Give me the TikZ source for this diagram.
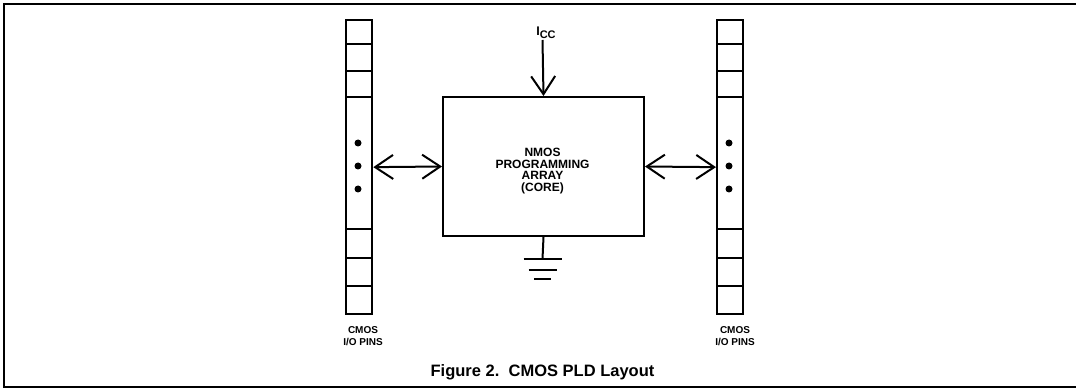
\documentclass[tikz,border=0pt]{standalone}
\usepackage{fontspec}
\setmainfont{Liberation Sans}
\usetikzlibrary{arrows.meta}
\begin{document}
\begin{tikzpicture}[x=1pt,y=-1pt,
  frame/.style={line width=2.8pt},
  pinbox/.style={draw, line width=2.3pt, minimum width=26pt, minimum height=294pt, inner sep=0pt, anchor=north west},
  pinline/.style={line width=2.3pt},
  corebox/.style={draw, line width=2pt, minimum width=201pt, minimum height=139pt, inner sep=0pt, anchor=north west},
  txt/.style={align=center, inner sep=0pt, font=\bfseries\fontsize{12}{11.8}\selectfont},
  pinlbl/.style={align=center, inner sep=0pt, font=\bfseries\fontsize{10}{12.5}\selectfont},
  caption/.style={inner sep=0pt, font=\bfseries\fontsize{16.5}{16.5}\selectfont},
  conn/.style={line width=2pt},
  biarrow/.style={conn, {Straight Barb[length=18pt,width=24pt]}-{Straight Barb[length=18pt,width=24pt]}},
  inarrow/.style={conn, -{Straight Barb[length=18pt,width=24pt]}},
  gnd/.style={line width=2.8pt},
  dot/.style={circle, fill, inner sep=0pt, minimum size=7pt}
]
\useasboundingbox (0,0) rectangle (1076,390);
\draw[frame] (1078,4) -- (4,4) -- (4,387) -- (1078,387);

% pin columns
\node[pinbox] (lpins) at (345,19) {};
\node[pinbox] (rpins) at (716,19) {};
\foreach \p in {lpins,rpins}{
  \foreach \d in {25,52,78,210,239,267}
    \draw[pinline] (\p.north west) ++(0,\d) -- ++(26,0);
}
\node[dot] (ld1) at (358,143) {};
\node[dot] (ld2) at (358,166) {};
\node[dot] (ld3) at (358,189) {};
\node[dot] (rd1) at (729,143) {};
\node[dot] (rd2) at (729,166) {};
\node[dot] (rd3) at (729,189) {};

% core
\node[corebox] (core) at (442,96) {};
\node[txt] (coretxt) at (542.5,171) {NMOS\\PROGRAMMING\\ARRAY\\(CORE)};

% connectors
\draw[biarrow] (lpins.east) -- (core.west);
\draw[biarrow] (core.east) -- (rpins.west);

% Icc
\coordinate (icc) at (542.5,40);
\node[inner sep=0pt, font=\bfseries\fontsize{12.5}{12.5}\selectfont] (icclbl) at (546,33) {I\raisebox{-3pt}{\fontsize{11}{11}\selectfont CC}};
\draw[inarrow] (icc) -- (core.north);

% ground
\coordinate (g) at (542.5,259);
\draw[conn] (core.south) -- (g);
\draw[gnd] (g) ++(-19,0) -- ++(38,0);
\draw[gnd] (g) ++(-14,11) -- ++(28,0);
\draw[gnd] (g) ++(-8.5,20) -- ++(17,0);

% labels
\node[pinlbl] (llbl) at (363,336) {CMOS\\I/O PINS};
\node[pinlbl] (rlbl) at (735,336) {CMOS\\I/O PINS};
\node[caption] (cap) at (542.5,372) {Figure 2.\ \ CMOS PLD Layout};
\end{tikzpicture}
\end{document}
